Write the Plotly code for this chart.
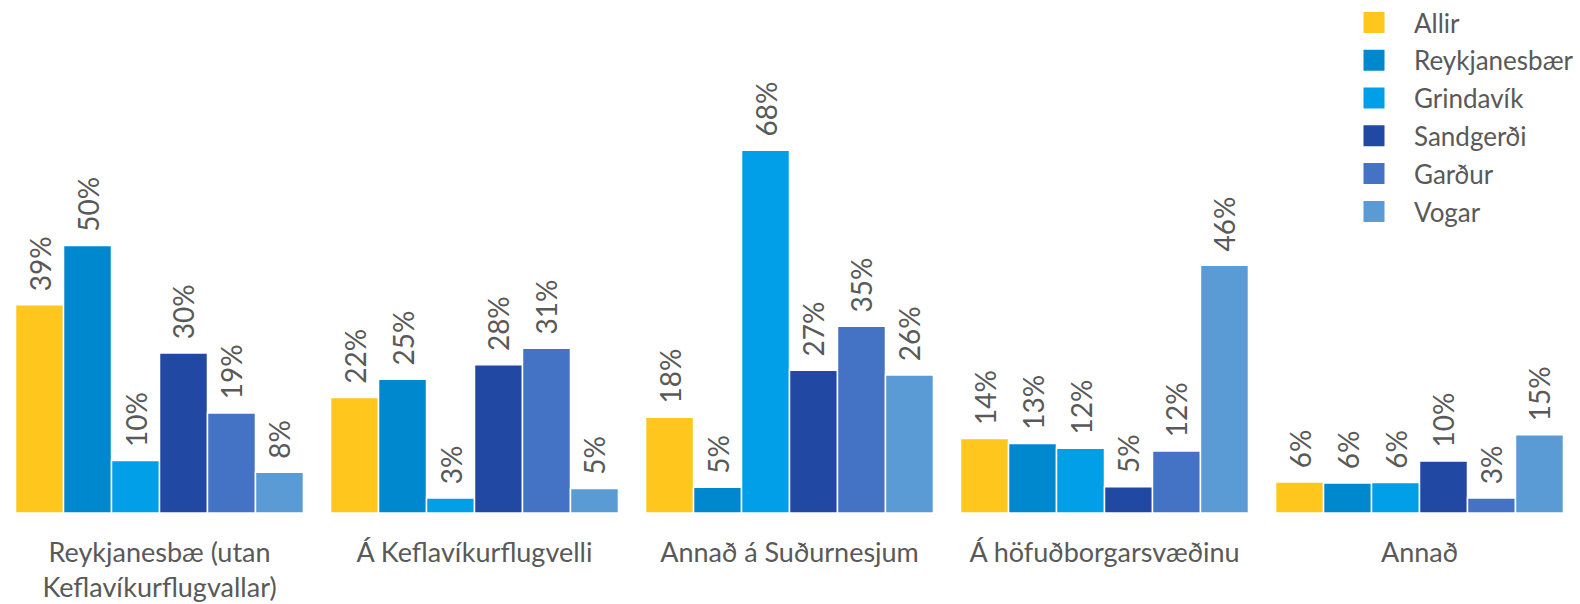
import plotly.graph_objects as go

categories = ["Reykjanesbæ (utan<br>Keflavíkurflugvallar)", "Á Keflavíkurflugvelli",
              "Annað á Suðurnesjum", "Á höfuðborgarsvæðinu", "Annað"]
series_names = ["Allir", "Reykjanesbær", "Grindavík", "Sandgerði", "Garður", "Vogar"]
colors = ["#FFC61E", "#0088CF", "#009FE8", "#2149A3", "#4472C4", "#5B9BD5"]

allir = [38.9, 21.6, 17.9, 13.9, 5.8]
reykjanesbaer = [50.0, 25.0, 4.8, 13.0, 5.6]
grindavik = [9.8, 2.8, 67.8, 12.1, 5.7]
sandgerdi = [29.9, 27.7, 26.7, 4.9, 9.7]
gardur = [18.7, 30.8, 34.9, 11.6, 2.8]
vogar = [7.6, 4.6, 25.8, 46.3, 14.6]
labels = {
    "Allir": ["39%", "22%", "18%", "14%", "6%"],
    "Reykjanesbær": ["50%", "25%", "5%", "13%", "6%"],
    "Grindavík": ["10%", "3%", "68%", "12%", "6%"],
    "Sandgerði": ["30%", "28%", "27%", "5%", "10%"],
    "Garður": ["19%", "31%", "35%", "12%", "3%"],
    "Vogar": ["8%", "5%", "26%", "46%", "15%"],
}
series_values = [allir, reykjanesbaer, grindavik, sandgerdi, gardur, vogar]

FONT = "Lato"
GRAY = "#595959"
PAD = "\u00a0\u2009"

fig = go.Figure()
for name, vals, col in zip(series_names, series_values, colors):
    fig.add_trace(go.Bar(
        x=categories, y=vals, name=name,
        marker=dict(color=col, line=dict(color="white", width=1.5)),
        text=[PAD + t for t in labels[name]],
        textposition="outside", textangle=-90,
        textfont=dict(family=FONT, size=28, color=GRAY),
        constraintext="none", cliponaxis=False,
        showlegend=False, hoverinfo="skip",
    ))
for i, (name, col) in enumerate(zip(series_names, colors)):
    fig.add_trace(go.Scatter(
        x=[None], y=[None], mode="markers", name=name,
        marker=dict(symbol="square", size=16, color=col, line=dict(color=col, width=5)),
        legendgroup=f"g{i}", showlegend=True,
    ))

fig.update_layout(
    width=1580, height=604,
    margin=dict(l=2, r=3, t=10, b=91, autoexpand=False),
    paper_bgcolor="white", plot_bgcolor="white",
    barmode="group", bargap=0.086, bargroupgap=0,
    font=dict(family=FONT, size=26, color=GRAY),
    legend=dict(
        x=(1334 - 2) / 1575, xanchor="left", y=1 + 11 / 503, yanchor="top",
        font=dict(family=FONT, size=26, color=GRAY),
        itemsizing="trace", itemwidth=70, tracegroupgap=1,
        bgcolor="rgba(0,0,0,0)",
    ),
    xaxis=dict(showline=False, showgrid=False, ticks="", zeroline=False,
               tickfont=dict(family=FONT, size=27, color=GRAY), ticklabelstandoff=21),
    yaxis=dict(range=[0, 94], visible=False, showgrid=False, zeroline=False),
)

fig.write_html("out.html", config={"displayModeBar": False},
               post_script="document.body.style.margin='0';")
